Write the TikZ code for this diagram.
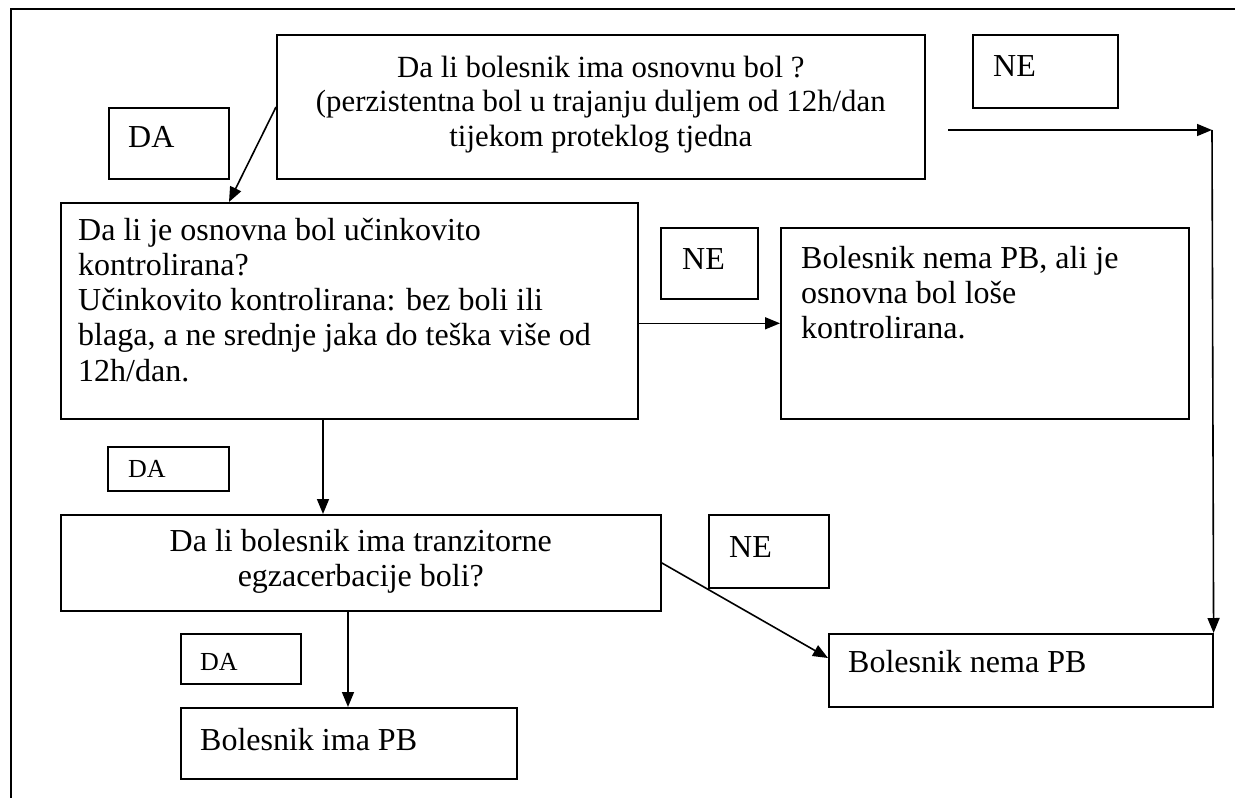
\documentclass[tikz,border=0pt]{standalone}
\usepackage{fontspec}
\setmainfont{Liberation Serif}
\usetikzlibrary{arrows.meta,calc}
\begin{document}
\begin{tikzpicture}[x=1pt,y=-1pt,
  box/.style={draw,line width=1.6pt,rectangle,inner sep=0pt,anchor=north west},
  txt/.style={inner sep=0pt,anchor=base west,font=\fontsize{32}{35.3}\selectfont},
  ctxt/.style={inner sep=0pt,anchor=base,font=\fontsize{32}{35}\selectfont},
  ttxt/.style={inner sep=0pt,anchor=base,font=\fontsize{30.8}{34.6}\selectfont},
  stxt/.style={inner sep=0pt,anchor=base west,font=\fontsize{26}{30}\selectfont},
  conn/.style={line width=1.6pt,-{Triangle[length=15pt,width=12pt]}},
  frame/.style={line width=1.6pt}]
\useasboundingbox (0,0) rectangle (1235,798);
% frame
\coordinate (fA) at (11,798);
\coordinate (fB) at (11,9);
\coordinate (fC) at (1235,9);
\draw[frame] (fA) -- (fB) -- (fC);
% boxes
\node[box,minimum width=648pt,minimum height=144pt] (b1) at (276,34) {};
\node[box,minimum width=120pt,minimum height=71pt] (da1) at (108,107) {};
\node[box,minimum width=145pt,minimum height=73pt] (ne1) at (972,34) {};
\node[box,minimum width=577pt,minimum height=216pt] (b2) at (60,202) {};
\node[box,minimum width=97pt,minimum height=71pt] (ne2) at (660,227) {};
\node[box,minimum width=408pt,minimum height=191pt] (b3) at (780,227) {};
\node[box,minimum width=121pt,minimum height=44pt] (da2) at (107,446) {};
\node[box,minimum width=600pt,minimum height=96pt] (b4) at (60,514) {};
\node[box,minimum width=120pt,minimum height=73pt] (ne3) at (708,514) {};
\node[box,minimum width=384pt,minimum height=73pt] (b5) at (828,633) {};
\node[box,minimum width=120pt,minimum height=50pt] (da3) at (180,633) {};
\node[box,minimum width=336pt,minimum height=71pt] (b6) at (180,707) {};
% texts
\node[ttxt] at ($(b1.north)+(0,43)$) {\parbox[t]{640pt}{\centering Da li bolesnik ima osnovnu bol ?\\(perzistentna bol u trajanju duljem od 12h/dan\\tijekom proteklog tjedna}};
\node[txt] at ($(da1.north west)+(20,40)$) {DA};
\node[txt] at ($(ne1.north west)+(21,42)$) {NE};
\node[txt] at ($(b2.north west)+(18,38)$) {\parbox[t]{560pt}{Da li je osnovna bol učinkovito\\kontrolirana?\\Učinkovito kontrolirana: bez boli ili\\blaga, a ne srednje jaka do teška više od\\12h/dan.}};
\node[txt] at ($(ne2.north west)+(22,42)$) {NE};
\node[txt] at ($(b3.north west)+(21,41)$) {\parbox[t]{390pt}{Bolesnik nema PB, ali je\\osnovna bol loše\\kontrolirana.}};
\node[stxt] at ($(da2.north west)+(21,31)$) {DA};
\node[ctxt] at ($(b4.north)+(0,37)$) {\parbox[t]{590pt}{\centering Da li bolesnik ima tranzitorne\\egzacerbacije boli?}};
\node[txt] at ($(ne3.north west)+(21,43)$) {NE};
\node[txt] at ($(b5.north west)+(20,39)$) {Bolesnik nema PB};
\node[stxt] at ($(da3.north west)+(20,37)$) {DA};
\node[txt] at ($(b6.north west)+(20,43)$) {Bolesnik ima PB};
% connectors
\draw[conn] ($(b1.north west)+(0,73)$) -- ($(b2.north west)+(169,0)$);
\coordinate (n1s) at (948,130);
\coordinate (n1c) at (1212,130);
\draw[conn] (n1s) -- (n1c);
\draw[conn] (n1c) -- (b5.north east);
\draw[conn] (b3.west -| b2.east) -- (b3.west);
\draw[conn] ($(b2.south west)+(263,0)$) -- ($(b4.north west)+(263,0)$);
\draw[conn] (b4.east) -- ($(b5.north west)+(0,25)$);
\draw[conn] ($(b4.south west)+(288,0)$) -- ($(b6.north west)+(168,0)$);
\end{tikzpicture}
\end{document}
